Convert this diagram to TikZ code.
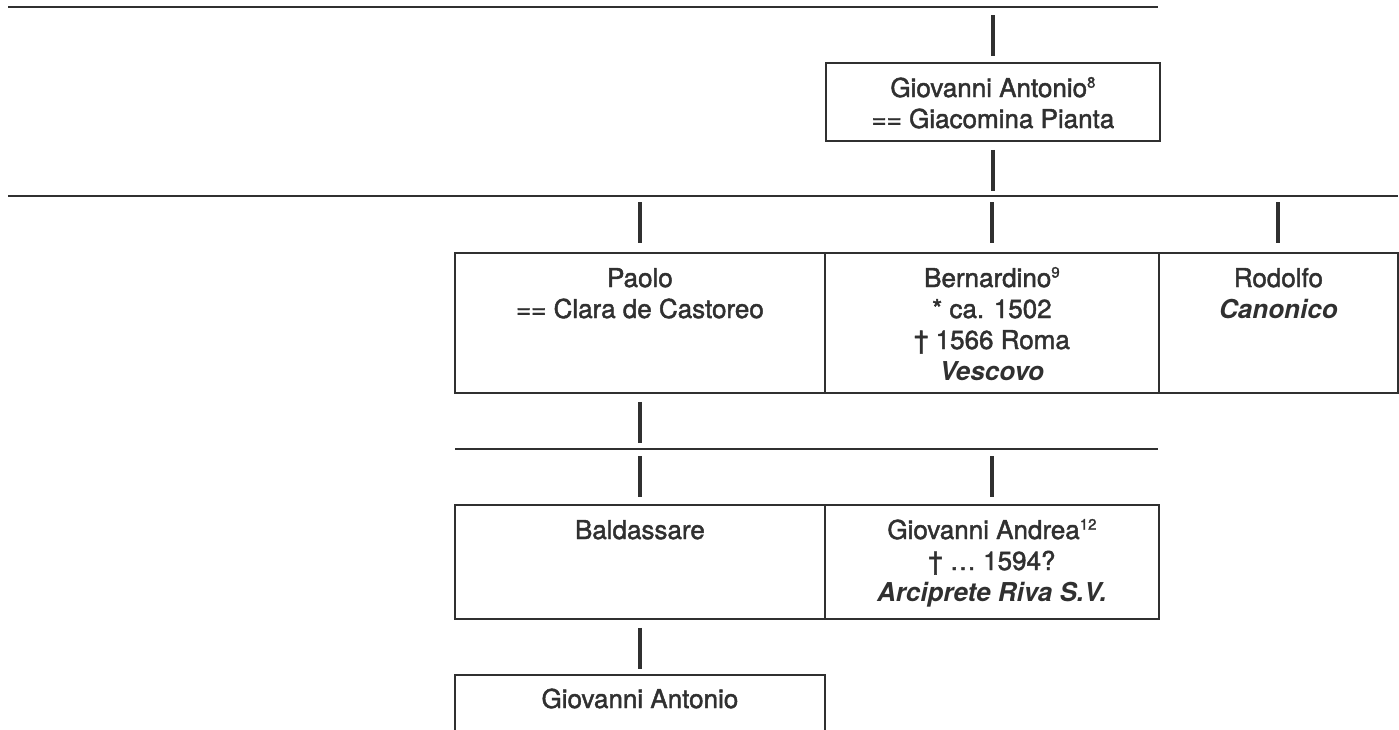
\documentclass[tikz,border=0pt]{standalone}
\usepackage{fontspec}
\setmainfont{TeX Gyre Heros}[UprightFeatures={FakeBold=1.7}]
\definecolor{ink}{HTML}{303030}
\newcommand\supn[1]{\raisebox{0.36em}{\fontsize{15}{15}\selectfont #1}}
\tikzset{
  fambox/.style={draw=ink, line width=1.8pt, inner sep=0pt, anchor=north west},
  famtext/.style={inner sep=0pt, text=ink, anchor=base, font=\fontsize{26}{31}\selectfont},
  kin/.style={draw=ink, line width=4pt},
  sib/.style={draw=ink, line width=2.8pt},
}
\begin{document}
\begin{tikzpicture}[x=1pt,y=-1pt]
\useasboundingbox (0,0) rectangle (1399,729);
\clip (0,0) rectangle (1399,729);
% sibship lines
\coordinate (l1a) at (8,7);    \coordinate (l1b) at (1158,7);
\coordinate (l2a) at (8,196);  \coordinate (l2b) at (1398,196);
\coordinate (l3a) at (455,449);\coordinate (l3b) at (1158,449);
\draw[sib] (l1a) -- (l1b);
\draw[sib] (l2a) -- (l2b);
\draw[sib] (l3a) -- (l3b);
% boxes
\node[fambox, minimum width=334pt, minimum height=78pt] (ga) at (825,62) {};
\node[fambox, minimum width=370pt, minimum height=140pt] (pa) at (454,252) {};
\node[fambox, minimum width=334pt, minimum height=140pt] (be) at (824,252) {};
\node[fambox, minimum width=239pt, minimum height=140pt] (ro) at (1158,252) {};
\node[fambox, minimum width=370pt, minimum height=114pt] (ba) at (454,504) {};
\node[fambox, minimum width=334pt, minimum height=114pt] (an) at (824,504) {};
\node[fambox, minimum width=370pt, minimum height=90pt] (gb) at (454,674) {};
% texts
\node[famtext] (gat) at ([yshift=-35pt]ga.north) {\begin{tabular}[t]{@{}c@{}}Giovanni Antonio\supn{8}\\== Giacomina Pianta\end{tabular}};
\node[famtext] (pat) at ([yshift=-35pt]pa.north) {\begin{tabular}[t]{@{}c@{}}Paolo\\== Clara de Castoreo\end{tabular}};
\node[famtext] (bet) at ([yshift=-35pt]be.north) {\begin{tabular}[t]{@{}c@{}}Bernardino\supn{9}\\\relax * ca. 1502\\† 1566 Roma\\{\bfseries\itshape Vescovo}\end{tabular}};
\node[famtext] (rot) at ([yshift=-35pt]ro.north) {\begin{tabular}[t]{@{}c@{}}Rodolfo\\{\bfseries\itshape Canonico}\end{tabular}};
\node[famtext] (bat) at ([yshift=-35pt]ba.north) {Baldassare};
\node[famtext] (ant) at ([yshift=-35pt]an.north) {\begin{tabular}[t]{@{}c@{}}Giovanni Andrea\supn{12}\\† … 1594?\\{\bfseries\itshape Arciprete Riva S.V.}\end{tabular}};
\node[famtext] (gbt) at ([yshift=-34pt]gb.north) {Giovanni Antonio};
% descent stubs
\draw[kin] ([yshift=47pt]ga.north) -- ([yshift=6pt]ga.north);
\draw[kin] ([yshift=-8pt]ga.south) -- ([yshift=-49pt]ga.south);
\draw[kin] ([yshift=50pt]pa.north) -- ([yshift=9pt]pa.north);
\draw[kin] ([yshift=50pt]be.north) -- ([yshift=9pt]be.north);
\draw[kin] ([yshift=50pt]ro.north) -- ([yshift=9pt]ro.north);
\draw[kin] ([yshift=-8pt]pa.south) -- ([yshift=-49pt]pa.south);
\draw[kin] ([yshift=48pt]ba.north) -- ([yshift=7pt]ba.north);
\draw[kin] ([yshift=48pt]an.north) -- ([yshift=7pt]an.north);
\draw[kin] ([yshift=-8pt]ba.south) -- ([yshift=-49pt]ba.south);
\end{tikzpicture}
\end{document}
